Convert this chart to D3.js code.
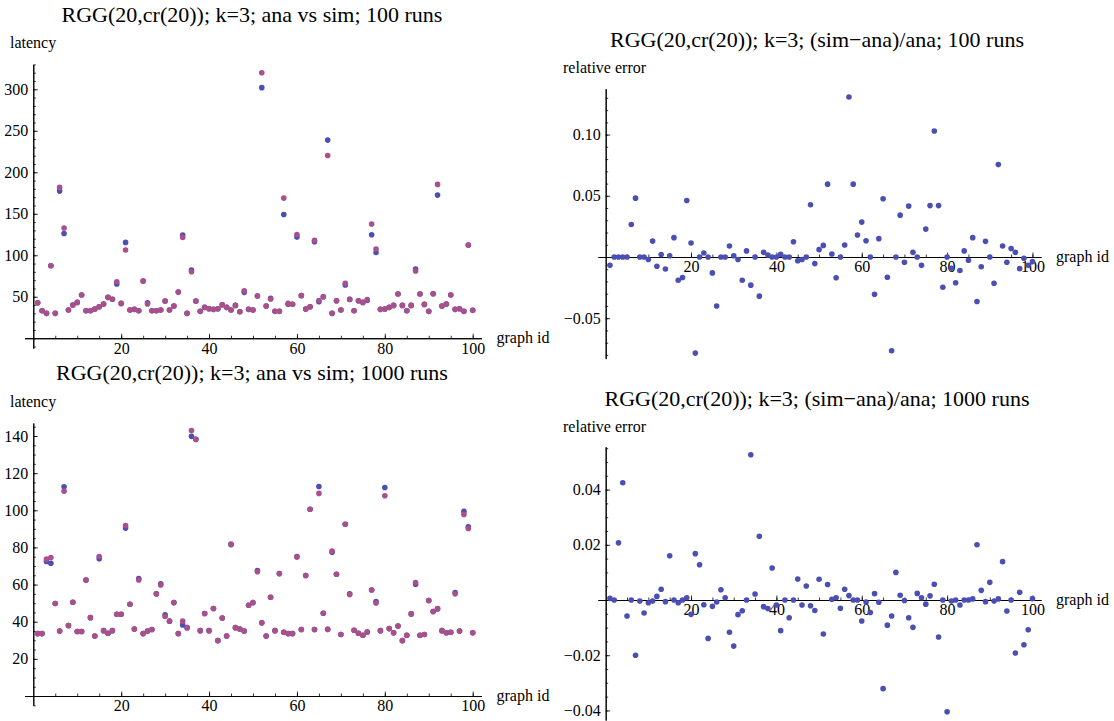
<!DOCTYPE html>
<html>
<head>
<meta charset="utf-8">
<script src="https://cdnjs.cloudflare.com/ajax/libs/d3/7.8.5/d3.min.js"></script>
<style>
  body { margin: 0; background: #fff; }
  text { font-family: "Liberation Serif", "Times New Roman", serif; }
</style>
</head>
<body>
<div id="chart"></div>
<script>
// Graph ids on the x axis
var graphIds = d3.range(1, 101);

// Latency, 100 runs: analytic (blue) and simulated (purple)
var ana100 = [42.8, 33.2, 30, 87.4, 30, 177.3, 126.3, 34, 40, 43.2,
  52.1, 33.2, 33.2, 35.2, 38, 41.2, 49.3, 46.9, 65.3, 42,
  115.5, 34, 34.8, 33.2, 69, 42.8, 33.2, 33.2, 34, 44.9,
  34, 38.8, 55.7, 124.3, 30, 82.2, 44.9, 32.4, 37.2, 35.6,
  34.8, 35.6, 40.4, 37.2, 34, 39.6, 32, 55.3, 34.8, 34,
  50.9, 302, 38.8, 48, 32.4, 32.4, 149.2, 41, 41, 121.9,
  51.3, 35.2, 38, 116.3, 44, 50, 238.8, 30, 45.2, 34,
  64.1, 46.8, 33.2, 45.2, 43.2, 45.5, 124.7, 103.4, 34.8, 35.2,
  37.2, 39.6, 53.3, 39.6, 33.2, 39.6, 83.4, 53.3, 40.8, 32.4,
  53.7, 172.5, 38.8, 41.2, 52.1, 34.8, 35.6, 32.4, 112.3, 33.6];
var sim100 = [42.8, 33.2, 30, 87.4, 30, 181.8, 132.8, 34, 40, 43.2,
  52.1, 33.2, 33.2, 35.2, 38, 41.2, 49.3, 46.9, 68.1, 42,
  106.3, 34, 34.8, 33.2, 69, 41.2, 33.2, 33.2, 34, 44.9,
  34, 38.8, 55.7, 121.5, 30, 80.2, 44.9, 32.4, 37.2, 35.6,
  34.8, 35.6, 40.4, 37.2, 34, 39.6, 32, 57.3, 34.8, 34,
  50.9, 320, 38.8, 47.3, 32.4, 32.4, 168.9, 42, 41, 125.1,
  51.3, 35.2, 38, 118, 45.5, 50, 220.3, 30, 45.2, 34,
  66.1, 46.8, 33.2, 45.2, 43.2, 46.5, 137.6, 107.5, 34.8, 35.2,
  37.2, 39.6, 53.3, 39.6, 33.2, 39.6, 81, 53.3, 40.8, 32.4,
  53.7, 185.4, 38.8, 41.2, 52.1, 34.8, 35.6, 32.4, 112.3, 33.6];

// Relative error (sim-ana)/ana, 100 runs
var relErr100 = [-0.0068, 0, 0, 0, 0, 0.0266, 0.0481, 0, 0, -0.002,
  0.013, -0.0076, 0.002, -0.0098, 0.001, 0.0158, -0.019, -0.0168, 0.0462, 0.0114,
  -0.0785, 0, 0.0033, 0, -0.013, -0.04, 0, 0, 0.009, 0.001,
  -0.002, -0.019, 0.005, -0.023, 0, -0.032, 0.0038, 0.0016, 0, 0,
  0.0022, 0, 0, 0.0125, -0.003, -0.002, 0, 0.0427, -0.0054, 0.006,
  0.0095, 0.0595, 0.0024, -0.017, 0, 0.0098, 0.1307, 0.0595, 0.018, 0.0285,
  0.0133, 0, -0.0304, 0.015, 0.0476, -0.0166, -0.0766, 0, 0.0342, -0.0043,
  0.0416, 0.0038, 0, -0.0068, 0.0228, 0.042, 0.103, 0.042, -0.0247, 0,
  -0.0092, -0.021, -0.011, 0.005, -0.0027, 0.0158, -0.0364, -0.008, 0.0128, 0,
  -0.0215, 0.0755, 0.009, -0.0043, 0.007, 0.0038, -0.0095, -0.001, -0.0068, -0.0038];

// Latency, 1000 runs
var ana1000 = [33.6, 33.6, 72.4, 71.5, 49.8, 35, 112.7, 37.9, 50.5, 34.7,
  34.7, 62.4, 42.2, 32.3, 73.9, 35.2, 33.8, 35.2, 44, 44,
  90.4, 49.4, 36.1, 63.3, 33.6, 35, 35.8, 55, 60.4, 43.7,
  40.3, 50.3, 33.6, 38.3, 36.8, 139.8, 138.2, 35.2, 44.4, 35.2,
  47.1, 29.8, 42, 32.3, 81.5, 36.8, 36.1, 35, 48.9, 50.3,
  67.6, 39.4, 32.3, 53.2, 35.2, 65.9, 34.3, 33.6, 33.6, 75.1,
  35.8, 64.9, 100.6, 35.8, 112.8, 44.6, 35.9, 77.4, 65.6, 33.1,
  92.5, 55, 35.4, 33.8, 32.7, 34.5, 57.1, 50.9, 35.2, 112.3,
  36.3, 34.1, 37.7, 29.8, 32.7, 44.2, 60.2, 32.7, 33.1, 51.4,
  45.5, 46.9, 35.2, 34.1, 34.3, 55.7, 35, 99.4, 91.1, 34];
var sim1000 = [33.6, 33.6, 73.7, 74.6, 49.8, 35, 110.3, 37.9, 50.5, 34.7,
  34.7, 62.4, 42.2, 32.3, 75.1, 35.2, 33.8, 35.2, 44, 44,
  91.8, 49.4, 36.1, 62.5, 33.6, 35, 35.8, 55, 59.8, 42.8,
  40.3, 50.3, 33.6, 40.3, 36.8, 143, 138.2, 35.2, 44.4, 35.2,
  47.1, 29.8, 42, 32.3, 81.8, 36.8, 36.1, 35, 48.9, 50.3,
  66.9, 39.4, 32.3, 53.2, 35.2, 65.9, 34.3, 33.6, 33.6, 74.8,
  35.8, 64.9, 100.6, 35.8, 109.1, 44.6, 35.9, 78, 65.6, 33.1,
  92.5, 54.6, 35.4, 33.8, 32.7, 34.5, 57.1, 50.1, 35.2, 107.8,
  36.3, 34.1, 37.7, 29.8, 32.7, 44.2, 61.1, 32.7, 33.1, 51.4,
  45.5, 47.1, 35.2, 34.1, 34.3, 55, 35, 97.8, 90.2, 34];

// Relative error, 1000 runs
var relErr1000 = [0.0006, 0, 0.0207, 0.0425, -0.0058, 0, -0.02, -0.0004, -0.0047, -0.001,
  -0.0004, 0.0013, 0.0039, -0.0006, 0.016, 0, -0.001, 0, 0.0008, -0.0052,
  0.0168, 0.0128, -0.0017, -0.0139, -0.0023, -0.0007, 0.0037, 0.0008, -0.0117, -0.0167,
  -0.0053, -0.0039, 0, 0.0526, 0.0022, 0.0231, -0.0024, -0.0031, 0.0116, -0.0018,
  -0.0111, 0, -0.0064, 0, 0.0076, -0.0018, 0.0051, -0.0021, -0.0038, 0.0075,
  -0.0123, 0.0056, 0.0003, 0.0008, -0.003, 0.0039, 0.0016, 0, 0, -0.0076,
  -0.0007, -0.0045, 0.0023, -0.0008, -0.0321, -0.0091, -0.0058, 0.01, 0.0017, -0.0002,
  -0.0064, -0.0099, 0.0024, 0.0008, -0.0015, 0.0015, 0.0057, -0.0134, 0, -0.0405,
  -0.0004, 0, -0.0018, 0, 0, 0.0004, 0.02, 0.0035, -0.0006, 0.0064,
  -0.0004, 0.0004, 0.0139, -0.004, 0, -0.0192, 0.0028, -0.0162, -0.0108, 0.0005];

// Tick values
var xMajor = [20, 40, 60, 80, 100];
var latencyTicks100 = [50, 100, 150, 200, 250, 300];
var latencyTicks1000 = [20, 40, 60, 80, 100, 120, 140];
var errTicks100 = [-0.05, 0.05, 0.10];
var errTicks1000 = [-0.04, -0.02, 0.02, 0.04];

var blue = "#4b4fb4";
var purple = "#a94f8b";

var svg = d3.select("#chart")
  .append("svg")
  .attr("width", 1114)
  .attr("height", 721);

// Panel layout
var panels = [
  {
    title: "RGG(20,cr(20)); k=3; ana vs sim; 100 runs", titleX: 252, titleY: 22,
    ylabel: "latency", ylabelX: 10, ylabelY: 48,
    xRange: [24.5, 481.5], xDomain: [-2, 102],
    yRange: [348.2, 64.4], yDomain: [-12, 330],
    yTicks: latencyTicks100, yMinorStep: 10, yFormat: d3.format("d"),
    series: [{ values: ana100, color: blue }, { values: sim100, color: purple }]
  },
  {
    title: "RGG(20,cr(20)); k=3; (sim\u2212ana)/ana; 100 runs", titleX: 817, titleY: 47,
    ylabel: "relative error", ylabelX: 563, ylabelY: 73,
    xRange: [598, 1041], xDomain: [-1.8, 102],
    yRange: [358.6, 88.7], yDomain: [-0.083, 0.1375],
    yTicks: errTicks100, yMinorStep: 0.01, yFormat: d3.format(".2f"),
    series: [{ values: relErr100, color: blue }]
  },
  {
    title: "RGG(20,cr(20)); k=3; ana vs sim; 1000 runs", titleX: 252, titleY: 380,
    ylabel: "latency", ylabelX: 10, ylabelY: 407,
    xRange: [24.5, 481.5], xDomain: [-2, 102],
    yRange: [705.3, 423], yDomain: [-5, 147],
    yTicks: latencyTicks1000, yMinorStep: 5, yFormat: d3.format("d"),
    series: [{ values: ana1000, color: blue }, { values: sim1000, color: purple }]
  },
  {
    title: "RGG(20,cr(20)); k=3; (sim\u2212ana)/ana; 1000 runs", titleX: 817, titleY: 406,
    ylabel: "relative error", ylabelX: 563, ylabelY: 432,
    xRange: [598, 1041], xDomain: [-1.8, 102],
    yRange: [720.1, 446.8], yDomain: [-0.0435, 0.0555],
    yTicks: errTicks1000, yMinorStep: 0.005, yFormat: d3.format(".2f"),
    series: [{ values: relErr1000, color: blue }]
  }
];

function styleAxis(g, fontSize) {
  g.select(".domain").attr("stroke", "#000").attr("stroke-width", 1);
  g.selectAll(".tick line").attr("stroke", "#000").attr("stroke-width", 0.8);
  g.selectAll("text")
    .attr("font-family", "Liberation Serif, serif")
    .attr("font-size", fontSize)
    .attr("fill", "#000");
}

panels.forEach(function(p) {
  var x = d3.scaleLinear().domain(p.xDomain).range(p.xRange);
  var y = d3.scaleLinear().domain(p.yDomain).range(p.yRange);
  var g = svg.append("g");

  // Minor ticks first
  var xMinor = d3.range(5, 101, 5);
  g.append("g")
    .attr("transform", `translate(0, ${y(0)})`)
    .call(d3.axisBottom(x).tickValues(xMinor).tickFormat("").tickSize(-2.5).tickSizeOuter(0))
    .call(styleAxis, 16);

  var yMinor = d3.range(Math.ceil(p.yDomain[0] / p.yMinorStep), Math.floor(p.yDomain[1] / p.yMinorStep) + 1)
    .map(function(k) { return k * p.yMinorStep; });
  g.append("g")
    .attr("transform", `translate(${x(0)}, 0)`)
    .call(d3.axisLeft(y).tickValues(yMinor).tickFormat("").tickSize(-2.5).tickSizeOuter(0))
    .call(styleAxis, 16);

  // Major ticks with labels
  g.append("g")
    .attr("transform", `translate(0, ${y(0)})`)
    .call(d3.axisBottom(x).tickValues(xMajor).tickFormat(d3.format("d")).tickSize(-4.5).tickSizeOuter(0).tickPadding(4))
    .call(styleAxis, 16);

  g.append("g")
    .attr("transform", `translate(${x(0)}, 0)`)
    .call(d3.axisLeft(y).tickValues(p.yTicks).tickFormat(p.yFormat).tickSize(-4.5).tickSizeOuter(0).tickPadding(5))
    .call(styleAxis, 16);

  // Points
  p.series.forEach(function(s) {
    g.append("g")
      .selectAll("circle")
      .data(s.values)
      .enter()
      .append("circle")
      .attr("cx", (d, i) => x(graphIds[i]))
      .attr("cy", d => y(d))
      .attr("r", 2.8)
      .attr("fill", s.color);
  });

  // Labels
  g.append("text")
    .attr("x", p.titleX)
    .attr("y", p.titleY)
    .attr("text-anchor", "middle")
    .attr("font-size", 22)
    .text(p.title);

  g.append("text")
    .attr("x", p.ylabelX)
    .attr("y", p.ylabelY)
    .attr("font-size", 16)
    .text(p.ylabel);

  g.append("text")
    .attr("x", p.xRange[1] + 15)
    .attr("y", y(0) + 5)
    .attr("font-size", 16)
    .text("graph id");
});
</script>
</body>
</html>
